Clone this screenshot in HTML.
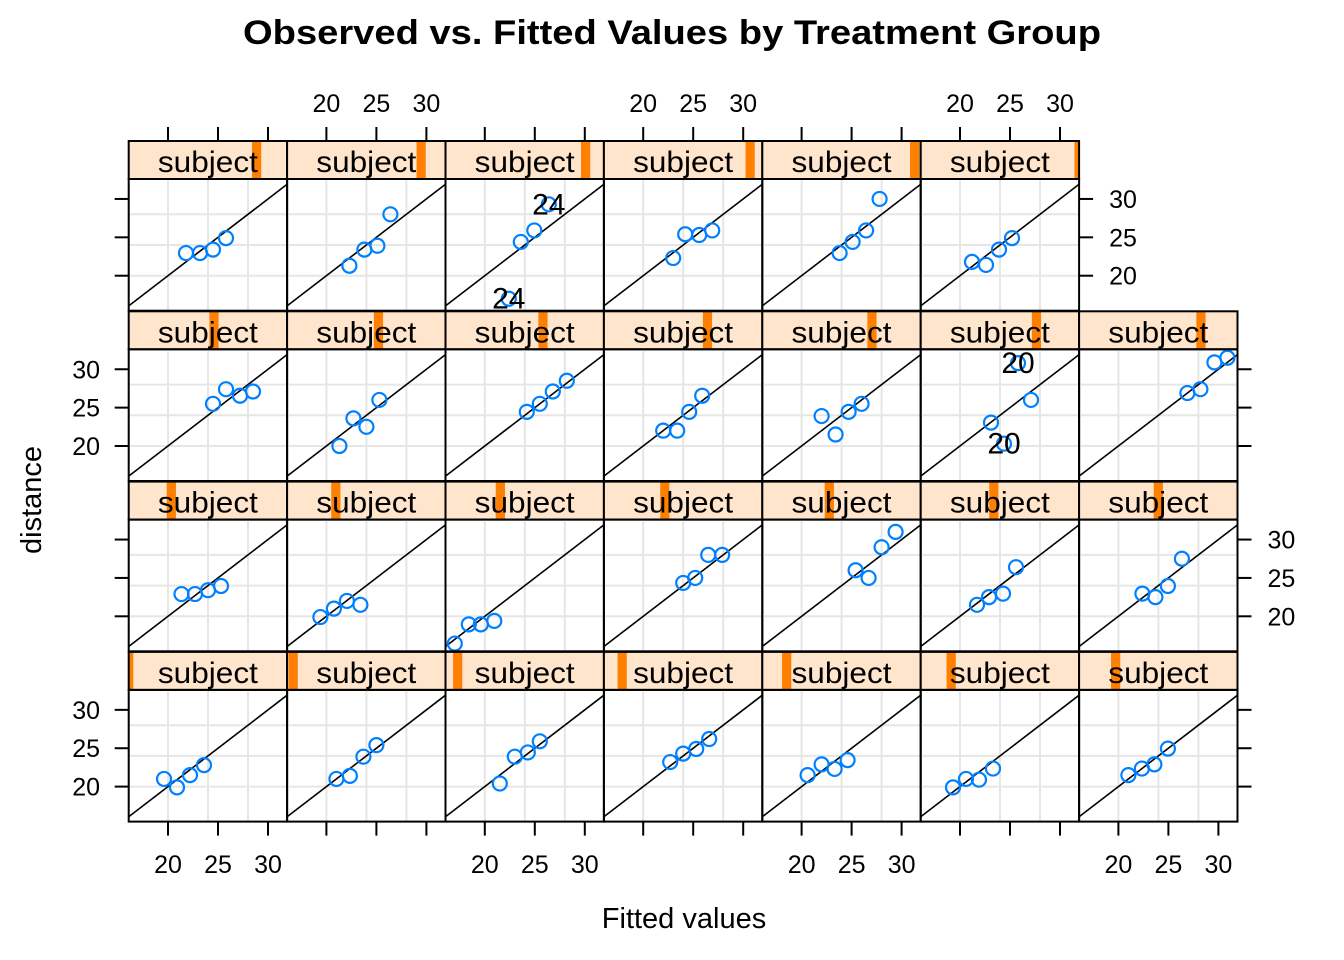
<!DOCTYPE html>
<html><head><meta charset="utf-8"><style>
html,body{margin:0;padding:0;background:#fff;}
svg{display:block;font-family:"Liberation Sans",Arial,sans-serif;}
</style></head><body>
<svg id="chart" width="1344" height="960" viewBox="0 0 1344 960">
<text x="672" y="44" text-anchor="middle" font-size="34" font-weight="bold" textLength="858" lengthAdjust="spacingAndGlyphs">Observed vs. Fitted Values by Treatment Group</text>
<text x="0" y="0" transform="translate(41,500) rotate(-90)" text-anchor="middle" font-size="29">distance</text>
<text x="684" y="928" text-anchor="middle" font-size="29">Fitted values</text>
<g id="panels"></g>
</svg>
<script>
// panel order: rows top to bottom, columns left to right
const rowCounts = [6, 7, 7, 7];
const fittedValues = [
 [21.8,23.2,24.5,25.8],[22.3,23.8,25.1,26.4],[22.4,23.6,24.95,26.4],[23.0,24.2,25.6,26.9],[23.8,25.1,26.45,27.8],[21.2,22.6,23.9,25.2],
 [24.5,25.8,27.2,28.5],[21.3,22.7,24.0,25.3],[24.2,25.5,26.8,28.2],[22.0,23.4,24.6,25.9],[22.0,23.4,24.7,26.0],[23.1,24.4,25.8,27.1],[26.9,28.2,29.6,30.9],
 [21.35,22.7,24.0,25.3],[19.4,20.75,22.05,23.4],[17.0,18.4,19.6,20.95],[24.0,25.2,26.5,27.9],[25.4,26.7,28.0,29.4],[21.7,22.9,24.3,25.6],[22.4,23.7,24.95,26.35],
 [19.6,20.9,22.2,23.6],[21.0,22.35,23.7,25.0],[21.5,23.0,24.3,25.5],[22.7,24.0,25.3,26.6],[20.6,22.0,23.3,24.6],[19.3,20.6,21.9,23.3],[21.0,22.35,23.6,24.95]
];
const observedDistance = [
 [22.95,22.95,23.4,24.9],[21.3,23.4,23.9,28.0],[17.0,24.4,25.9,29.3],[22.3,25.4,25.3,25.9],[22.95,24.4,25.9,30.0],[21.8,21.4,23.4,24.9],
 [25.5,27.4,26.55,27.1],[20.0,23.6,22.5,26.0],[24.45,25.5,27.1,28.5],[22.0,22.0,24.45,26.55],[23.9,21.5,24.45,25.5],[23.05,20.3,30.8,26.0],[26.9,27.4,30.9,31.5],
 [22.9,22.9,23.4,23.95],[19.9,21.0,22.0,21.5],[16.45,18.95,18.95,19.4],[24.35,25.0,28.0,28.0],[26.0,25.0,29.0,31.0],[21.5,22.5,22.95,26.4],[22.95,22.5,23.95,27.5],
 [21.0,19.9,21.5,22.8],[21.0,21.4,23.9,25.4],[20.4,23.9,24.45,25.9],[23.2,24.3,24.9,26.2],[21.5,22.9,22.3,23.45],[19.9,21.0,20.9,22.35],[21.5,22.35,22.9,24.95]
];
// outlier labels: [panel index, point index, label]
const outlierPanel = [2, 2, 11, 11];
const outlierPoint = [0, 3, 1, 2];
const outlierText = ["24", "24", "20", "20"];
const xTicks = [20, 25, 30];
const yTicks = [20, 25, 30];
const gridVals = [20, 24, 28];
const nLevels = 27;

const NS = "http://www.w3.org/2000/svg";
const L = 128.7, CW = 158.4, TOP = 141, RP = 170.3, SH = 38, PH = 131.7;
const XMIN = 16.07, XMAX = 31.91, YMIN = 15.44, YMAX = 32.6;
function mk(tag, attrs, parent){const e=document.createElementNS(NS,tag);for(const k in attrs)e.setAttribute(k,attrs[k]);parent.appendChild(e);return e;}
function sx(v,c){return L+c*CW+(v-XMIN)/(XMAX-XMIN)*CW;}
function sy(v,r){const pb=TOP+r*RP+SH+PH;return pb-(v-YMIN)/(YMAX-YMIN)*PH;}
const root=document.getElementById('panels');
let p=0;
for(let r=0;r<4;r++){
 for(let c=0;c<rowCounts[r];c++){
  const g=mk('g',{},root);
  
  
  const x0=L+c*CW, st=TOP+r*RP, pt=st+SH;
  const strip=mk('rect',{x:x0,y:st,width:CW,height:SH,fill:'#ffe5cc'},g);
  
  
  const lvl=(3-r)*7+c;
  const bc=x0+lvl/(nLevels-1)*CW;
  const b0=Math.max(x0,bc-4.6), b1=Math.min(x0+CW,bc+4.6);
  const bar=mk('rect',{x:b0,y:st,width:b1-b0,height:SH,fill:'#ff7f00'},g);
  
  
  const t=mk('text',{x:x0+CW/2,y:st+31,'text-anchor':'middle','font-size':30,textLength:100,lengthAdjust:'spacingAndGlyphs'},g);
  t.textContent='subject';
  
  
  mk('rect',{x:x0,y:st,width:CW,height:SH,fill:'none',stroke:'#000','stroke-width':2},g);
  for(const gv of gridVals){
   mk('line',{x1:sx(gv,c),x2:sx(gv,c),y1:pt,y2:pt+PH,stroke:'#e6e6e6','stroke-width':2},g);
   mk('line',{x1:x0,x2:x0+CW,y1:sy(gv,r),y2:sy(gv,r),stroke:'#e6e6e6','stroke-width':2},g);
  }
  const lo=Math.max(XMIN,YMIN), hi=Math.min(XMAX,YMAX);
  const ref=mk('line',{x1:sx(lo,c),y1:sy(lo,r),x2:sx(hi,c),y2:sy(hi,r),stroke:'#000','stroke-width':1.6},g);
  
  
  const fx=fittedValues[p], oy=observedDistance[p];
  for(let i=0;i<fx.length;i++){
   const ci=mk('circle',{cx:sx(fx[i],c),cy:sy(oy[i],r),r:7,fill:'none',stroke:'#0080ff','stroke-width':2.2},g);
   
   
  }
  for(let k=0;k<outlierPanel.length;k++){
   if(outlierPanel[k]!==p)continue;
   const j=outlierPoint[k];
   const ol=mk('text',{x:sx(fx[j],c),y:sy(oy[j],r)+10,'text-anchor':'middle','font-size':30},g);
   ol.textContent=outlierText[k];
   
   
  }
  mk('rect',{x:x0,y:pt,width:CW,height:PH,fill:'none',stroke:'#000','stroke-width':2},g);
  // top axis
  if(r===0){
   for(const tv of xTicks){mk('line',{x1:sx(tv,c),x2:sx(tv,c),y1:st,y2:st-14,stroke:'#000','stroke-width':2},g);}
   if(c%2===1){for(const tv of xTicks){const tl=mk('text',{x:sx(tv,c),y:112,'text-anchor':'middle','font-size':25},g);tl.textContent=tv;
    
    }}
  }
  // bottom axis
  if(r===3){
   for(const tv of xTicks){mk('line',{x1:sx(tv,c),x2:sx(tv,c),y1:pt+PH,y2:pt+PH+14,stroke:'#000','stroke-width':2},g);}
   if(c%2===0){for(const tv of xTicks){const tl=mk('text',{x:sx(tv,c),y:873,'text-anchor':'middle','font-size':25},g);tl.textContent=tv;
    
    }}
  }
  // left axis
  if(c===0){
   for(const tv of yTicks){mk('line',{x1:x0,x2:x0-14,y1:sy(tv,r),y2:sy(tv,r),stroke:'#000','stroke-width':2},g);}
   if(r%2===1){for(const tv of yTicks){const tl=mk('text',{x:100,y:sy(tv,r)+9,'text-anchor':'end','font-size':25},g);tl.textContent=tv;
    
    }}
  }
  // right axis
  if(c===rowCounts[r]-1){
   const xr=x0+CW;
   for(const tv of yTicks){mk('line',{x1:xr,x2:xr+14,y1:sy(tv,r),y2:sy(tv,r),stroke:'#000','stroke-width':2},g);}
   if(r%2===0){for(const tv of yTicks){const tl=mk('text',{x:xr+30,y:sy(tv,r)+9,'text-anchor':'start','font-size':25},g);tl.textContent=tv;
    
    }}
  }
  p++;
 }
}
</script>
</body></html>
